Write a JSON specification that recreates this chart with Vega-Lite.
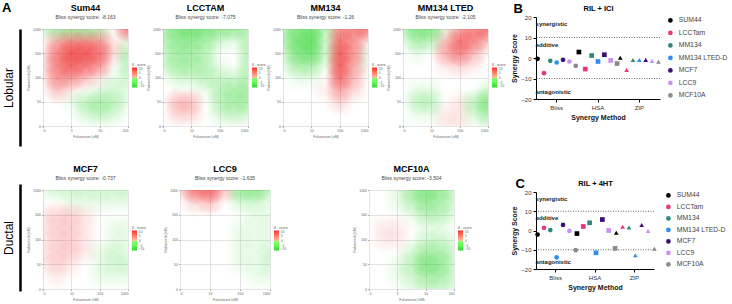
{
"$schema":"https://vega.github.io/schema/vega-lite/v6.json",
"padding":{"left":2,"top":1,"right":0,"bottom":0},
"background":"white",
"config":{
 "view":{"stroke":null},
 "font":"Liberation Sans",
 "axis":{"labelFontSize":3.5,"titleFontSize":3.5,"titleFontWeight":"normal","labelColor":"#666","titleColor":"#666","tickSize":1.5,"tickColor":"#aaa","domain":false,"grid":true,"gridColor":"#c8c8c8","gridWidth":0.5,"zindex":1,"labelPadding":1,"titlePadding":2},
 "legend":{"gradientLength":20,"gradientThickness":5,"titleFontSize":3.5,"titleFontWeight":"normal","labelFontSize":3,"titleColor":"#555","labelColor":"#555","titlePadding":1,"labelOffset":1,"gradientStrokeWidth":0},
 "title":{"fontSize":9,"fontWeight":"bold","subtitleFontSize":5,"subtitleColor":"#444","subtitlePadding":2,"offset":6,"color":"#000"}
},
"datasets":{
"sum44":[
{"x":0,"y":4,"v":-2},{"x":0.5,"y":4,"v":-4},{"x":1,"y":4,"v":-4},{"x":1.5,"y":4,"v":-4},{"x":2,"y":4,"v":-3},{"x":2.5,"y":4,"v":0},{"x":3,"y":4,"v":7},
{"x":0,"y":3.5,"v":0},{"x":0.5,"y":3.5,"v":4},{"x":1,"y":3.5,"v":6},{"x":1.5,"y":3.5,"v":6},{"x":2,"y":3.5,"v":5},{"x":2.5,"y":3.5,"v":1},{"x":3,"y":3.5,"v":-1},
{"x":0,"y":3,"v":1},{"x":0.5,"y":3,"v":6},{"x":1,"y":3,"v":9},{"x":1.5,"y":3,"v":9},{"x":2,"y":3,"v":7},{"x":2.5,"y":3,"v":2},{"x":3,"y":3,"v":-3},
{"x":0,"y":2.5,"v":1},{"x":0.5,"y":2.5,"v":6},{"x":1,"y":2.5,"v":8},{"x":1.5,"y":2.5,"v":7},{"x":2,"y":2.5,"v":5},{"x":2.5,"y":2.5,"v":0},{"x":3,"y":2.5,"v":-3},
{"x":0,"y":2,"v":1},{"x":0.5,"y":2,"v":5},{"x":1,"y":2,"v":5},{"x":1.5,"y":2,"v":3},{"x":2,"y":2,"v":1},{"x":2.5,"y":2,"v":-1},{"x":3,"y":2,"v":-2},
{"x":0,"y":1.5,"v":0},{"x":0.5,"y":1.5,"v":3},{"x":1,"y":1.5,"v":1},{"x":1.5,"y":1.5,"v":0},{"x":2,"y":1.5,"v":-1},{"x":2.5,"y":1.5,"v":-2},{"x":3,"y":1.5,"v":-1},
{"x":0,"y":1,"v":0},{"x":0.5,"y":1,"v":0},{"x":1,"y":1,"v":-1},{"x":1.5,"y":1,"v":-3},{"x":2,"y":1,"v":-4},{"x":2.5,"y":1,"v":-3},{"x":3,"y":1,"v":-1},
{"x":0,"y":0.5,"v":0},{"x":0.5,"y":0.5,"v":0},{"x":1,"y":0.5,"v":0},{"x":1.5,"y":0.5,"v":-2},{"x":2,"y":0.5,"v":-3},{"x":2.5,"y":0.5,"v":-2},{"x":3,"y":0.5,"v":0},
{"x":0,"y":0,"v":0},{"x":0.5,"y":0,"v":0},{"x":1,"y":0,"v":0},{"x":1.5,"y":0,"v":0},{"x":2,"y":0,"v":0},{"x":2.5,"y":0,"v":0},{"x":3,"y":0,"v":0}],
"lcctam":[
{"x":0,"y":4,"v":-3},{"x":0.5,"y":4,"v":-6},{"x":1,"y":4,"v":-7},{"x":1.5,"y":4,"v":-6},{"x":2,"y":4,"v":-5},{"x":2.5,"y":4,"v":-5},{"x":3,"y":4,"v":-3},
{"x":0,"y":3.5,"v":-3},{"x":0.5,"y":3.5,"v":-5},{"x":1,"y":3.5,"v":-5},{"x":1.5,"y":3.5,"v":-4},{"x":2,"y":3.5,"v":-2},{"x":2.5,"y":3.5,"v":-1},{"x":3,"y":3.5,"v":-3},
{"x":0,"y":3,"v":-2},{"x":0.5,"y":3,"v":-4},{"x":1,"y":3,"v":-4},{"x":1.5,"y":3,"v":-3},{"x":2,"y":3,"v":0},{"x":2.5,"y":3,"v":0},{"x":3,"y":3,"v":-3},
{"x":0,"y":2.5,"v":-2},{"x":0.5,"y":2.5,"v":-4},{"x":1,"y":2.5,"v":-4},{"x":1.5,"y":2.5,"v":-3},{"x":2,"y":2.5,"v":-1},{"x":2.5,"y":2.5,"v":0},{"x":3,"y":2.5,"v":-3},
{"x":0,"y":2,"v":0},{"x":0.5,"y":2,"v":-2},{"x":1,"y":2,"v":-2},{"x":1.5,"y":2,"v":-3},{"x":2,"y":2,"v":-2},{"x":2.5,"y":2,"v":-2},{"x":3,"y":2,"v":-3},
{"x":0,"y":1.5,"v":0},{"x":0.5,"y":1.5,"v":0},{"x":1,"y":1.5,"v":0},{"x":1.5,"y":1.5,"v":-1},{"x":2,"y":1.5,"v":-3},{"x":2.5,"y":1.5,"v":-4},{"x":3,"y":1.5,"v":-4},
{"x":0,"y":1,"v":0},{"x":0.5,"y":1,"v":3},{"x":1,"y":1,"v":3},{"x":1.5,"y":1,"v":0},{"x":2,"y":1,"v":-3},{"x":2.5,"y":1,"v":-4},{"x":3,"y":1,"v":-4},
{"x":0,"y":0.5,"v":0},{"x":0.5,"y":0.5,"v":2},{"x":1,"y":0.5,"v":2},{"x":1.5,"y":0.5,"v":0},{"x":2,"y":0.5,"v":-2},{"x":2.5,"y":0.5,"v":-3},{"x":3,"y":0.5,"v":-2},
{"x":0,"y":0,"v":0},{"x":0.5,"y":0,"v":0},{"x":1,"y":0,"v":0},{"x":1.5,"y":0,"v":0},{"x":2,"y":0,"v":0},{"x":2.5,"y":0,"v":0},{"x":3,"y":0,"v":0}],
"mm134":[
{"x":0,"y":4,"v":-3},{"x":0.5,"y":4,"v":-6},{"x":1,"y":4,"v":-7},{"x":1.5,"y":4,"v":-3},{"x":2,"y":4,"v":5},{"x":2.5,"y":4,"v":6},{"x":3,"y":4,"v":7},
{"x":0,"y":3.5,"v":-3},{"x":0.5,"y":3.5,"v":-7},{"x":1,"y":3.5,"v":-8},{"x":1.5,"y":3.5,"v":-2},{"x":2,"y":3.5,"v":7},{"x":2.5,"y":3.5,"v":5},{"x":3,"y":3.5,"v":1},
{"x":0,"y":3,"v":-2},{"x":0.5,"y":3,"v":-6},{"x":1,"y":3,"v":-7},{"x":1.5,"y":3,"v":-2},{"x":2,"y":3,"v":8},{"x":2.5,"y":3,"v":5},{"x":3,"y":3,"v":-1},
{"x":0,"y":2.5,"v":-1},{"x":0.5,"y":2.5,"v":-4},{"x":1,"y":2.5,"v":-4},{"x":1.5,"y":2.5,"v":-1},{"x":2,"y":2.5,"v":8},{"x":2.5,"y":2.5,"v":4},{"x":3,"y":2.5,"v":-1},
{"x":0,"y":2,"v":0},{"x":0.5,"y":2,"v":-1},{"x":1,"y":2,"v":-1},{"x":1.5,"y":2,"v":0},{"x":2,"y":2,"v":7},{"x":2.5,"y":2,"v":3},{"x":3,"y":2,"v":0},
{"x":0,"y":1.5,"v":0},{"x":0.5,"y":1.5,"v":0},{"x":1,"y":1.5,"v":0},{"x":1.5,"y":1.5,"v":1},{"x":2,"y":1.5,"v":4},{"x":2.5,"y":1.5,"v":2},{"x":3,"y":1.5,"v":0},
{"x":0,"y":1,"v":0},{"x":0.5,"y":1,"v":0},{"x":1,"y":1,"v":0},{"x":1.5,"y":1,"v":0},{"x":2,"y":1,"v":2},{"x":2.5,"y":1,"v":0},{"x":3,"y":1,"v":0},
{"x":0,"y":0.5,"v":0},{"x":0.5,"y":0.5,"v":0},{"x":1,"y":0.5,"v":0},{"x":1.5,"y":0.5,"v":0},{"x":2,"y":0.5,"v":0},{"x":2.5,"y":0.5,"v":0},{"x":3,"y":0.5,"v":0},
{"x":0,"y":0,"v":0},{"x":0.5,"y":0,"v":0},{"x":1,"y":0,"v":0},{"x":1.5,"y":0,"v":0},{"x":2,"y":0,"v":0},{"x":2.5,"y":0,"v":0},{"x":3,"y":0,"v":0}],
"lted":[
{"x":0,"y":4,"v":-3},{"x":0.5,"y":4,"v":-6},{"x":1,"y":4,"v":-6},{"x":1.5,"y":4,"v":-1},{"x":2,"y":4,"v":4},{"x":2.5,"y":4,"v":6},{"x":3,"y":4,"v":7},
{"x":0,"y":3.5,"v":-1},{"x":0.5,"y":3.5,"v":-4},{"x":1,"y":3.5,"v":-3},{"x":1.5,"y":3.5,"v":3},{"x":2,"y":3.5,"v":7},{"x":2.5,"y":3.5,"v":6},{"x":3,"y":3.5,"v":3},
{"x":0,"y":3,"v":0},{"x":0.5,"y":3,"v":-1},{"x":1,"y":3,"v":0},{"x":1.5,"y":3,"v":4},{"x":2,"y":3,"v":6},{"x":2.5,"y":3,"v":3},{"x":3,"y":3,"v":0},
{"x":0,"y":2.5,"v":0},{"x":0.5,"y":2.5,"v":0},{"x":1,"y":2.5,"v":0},{"x":1.5,"y":2.5,"v":1},{"x":2,"y":2.5,"v":2},{"x":2.5,"y":2.5,"v":1},{"x":3,"y":2.5,"v":0},
{"x":0,"y":2,"v":0},{"x":0.5,"y":2,"v":0},{"x":1,"y":2,"v":0},{"x":1.5,"y":2,"v":0},{"x":2,"y":2,"v":0},{"x":2.5,"y":2,"v":0},{"x":3,"y":2,"v":0},
{"x":0,"y":1.5,"v":0},{"x":0.5,"y":1.5,"v":-1},{"x":1,"y":1.5,"v":-1},{"x":1.5,"y":1.5,"v":0},{"x":2,"y":1.5,"v":0},{"x":2.5,"y":1.5,"v":0},{"x":3,"y":1.5,"v":-2},
{"x":0,"y":1,"v":0},{"x":0.5,"y":1,"v":-3},{"x":1,"y":1,"v":-3},{"x":1.5,"y":1,"v":0},{"x":2,"y":1,"v":1},{"x":2.5,"y":1,"v":-3},{"x":3,"y":1,"v":-6},
{"x":0,"y":0.5,"v":0},{"x":0.5,"y":0.5,"v":-1},{"x":1,"y":0.5,"v":-1},{"x":1.5,"y":0.5,"v":1},{"x":2,"y":0.5,"v":1},{"x":2.5,"y":0.5,"v":-2},{"x":3,"y":0.5,"v":-4},
{"x":0,"y":0,"v":0},{"x":0.5,"y":0,"v":0},{"x":1,"y":0,"v":0},{"x":1.5,"y":0,"v":1},{"x":2,"y":0,"v":1},{"x":2.5,"y":0,"v":0},{"x":3,"y":0,"v":-1}],
"mcf7":[
{"x":0,"y":4,"v":-1},{"x":0.5,"y":4,"v":-2},{"x":1,"y":4,"v":-2},{"x":1.5,"y":4,"v":-2},{"x":2,"y":4,"v":-2},{"x":2.5,"y":4,"v":-2},{"x":3,"y":4,"v":-2},
{"x":0,"y":3.5,"v":0},{"x":0.5,"y":3.5,"v":0},{"x":1,"y":3.5,"v":-1},{"x":1.5,"y":3.5,"v":-1},{"x":2,"y":3.5,"v":-1},{"x":2.5,"y":3.5,"v":-1},{"x":3,"y":3.5,"v":-1},
{"x":0,"y":3,"v":1},{"x":0.5,"y":3,"v":2},{"x":1,"y":3,"v":2},{"x":1.5,"y":3,"v":1},{"x":2,"y":3,"v":0},{"x":2.5,"y":3,"v":0},{"x":3,"y":3,"v":0},
{"x":0,"y":2.5,"v":1},{"x":0.5,"y":2.5,"v":2},{"x":1,"y":2.5,"v":2},{"x":1.5,"y":2.5,"v":1},{"x":2,"y":2.5,"v":0},{"x":2.5,"y":2.5,"v":-1},{"x":3,"y":2.5,"v":-1},
{"x":0,"y":2,"v":1},{"x":0.5,"y":2,"v":2},{"x":1,"y":2,"v":2},{"x":1.5,"y":2,"v":1},{"x":2,"y":2,"v":0},{"x":2.5,"y":2,"v":-1},{"x":3,"y":2,"v":-1},
{"x":0,"y":1.5,"v":1},{"x":0.5,"y":1.5,"v":2},{"x":1,"y":1.5,"v":2},{"x":1.5,"y":1.5,"v":1},{"x":2,"y":1.5,"v":-1},{"x":2.5,"y":1.5,"v":-2},{"x":3,"y":1.5,"v":-1},
{"x":0,"y":1,"v":1},{"x":0.5,"y":1,"v":2},{"x":1,"y":1,"v":1},{"x":1.5,"y":1,"v":0},{"x":2,"y":1,"v":-1},{"x":2.5,"y":1,"v":-2},{"x":3,"y":1,"v":-2},
{"x":0,"y":0.5,"v":0},{"x":0.5,"y":0.5,"v":1},{"x":1,"y":0.5,"v":0},{"x":1.5,"y":0.5,"v":0},{"x":2,"y":0.5,"v":-1},{"x":2.5,"y":0.5,"v":-1},{"x":3,"y":0.5,"v":-1},
{"x":0,"y":0,"v":0},{"x":0.5,"y":0,"v":0},{"x":1,"y":0,"v":0},{"x":1.5,"y":0,"v":0},{"x":2,"y":0,"v":0},{"x":2.5,"y":0,"v":0},{"x":3,"y":0,"v":0}],
"lcc9":[
{"x":0,"y":4,"v":2},{"x":0.5,"y":4,"v":7},{"x":1,"y":4,"v":8},{"x":1.5,"y":4,"v":3},{"x":2,"y":4,"v":-5},{"x":2.5,"y":4,"v":-6},{"x":3,"y":4,"v":-3},
{"x":0,"y":3.5,"v":0},{"x":0.5,"y":3.5,"v":2},{"x":1,"y":3.5,"v":3},{"x":1.5,"y":3.5,"v":0},{"x":2,"y":3.5,"v":-2},{"x":2.5,"y":3.5,"v":-2},{"x":3,"y":3.5,"v":-1},
{"x":0,"y":3,"v":0},{"x":0.5,"y":3,"v":0},{"x":1,"y":3,"v":0},{"x":1.5,"y":3,"v":0},{"x":2,"y":3,"v":0},{"x":2.5,"y":3,"v":-1},{"x":3,"y":3,"v":-1},
{"x":0,"y":2.5,"v":0},{"x":0.5,"y":2.5,"v":0},{"x":1,"y":2.5,"v":0},{"x":1.5,"y":2.5,"v":0},{"x":2,"y":2.5,"v":-1},{"x":2.5,"y":2.5,"v":-1},{"x":3,"y":2.5,"v":-1},
{"x":0,"y":2,"v":0},{"x":0.5,"y":2,"v":0},{"x":1,"y":2,"v":0},{"x":1.5,"y":2,"v":0},{"x":2,"y":2,"v":-1},{"x":2.5,"y":2,"v":-1},{"x":3,"y":2,"v":-1},
{"x":0,"y":1.5,"v":0},{"x":0.5,"y":1.5,"v":0},{"x":1,"y":1.5,"v":0},{"x":1.5,"y":1.5,"v":0},{"x":2,"y":1.5,"v":-1},{"x":2.5,"y":1.5,"v":-1},{"x":3,"y":1.5,"v":-2},
{"x":0,"y":1,"v":0},{"x":0.5,"y":1,"v":0},{"x":1,"y":1,"v":0},{"x":1.5,"y":1,"v":0},{"x":2,"y":1,"v":-1},{"x":2.5,"y":1,"v":-1},{"x":3,"y":1,"v":-2},
{"x":0,"y":0.5,"v":0},{"x":0.5,"y":0.5,"v":0},{"x":1,"y":0.5,"v":0},{"x":1.5,"y":0.5,"v":0},{"x":2,"y":0.5,"v":0},{"x":2.5,"y":0.5,"v":-1},{"x":3,"y":0.5,"v":-1},
{"x":0,"y":0,"v":0},{"x":0.5,"y":0,"v":0},{"x":1,"y":0,"v":0},{"x":1.5,"y":0,"v":0},{"x":2,"y":0,"v":0},{"x":2.5,"y":0,"v":0},{"x":3,"y":0,"v":0}],
"mcf10a":[
{"x":0,"y":4,"v":0},{"x":0.5,"y":4,"v":0},{"x":1,"y":4,"v":-1},{"x":1.5,"y":4,"v":-4},{"x":2,"y":4,"v":-6},{"x":2.5,"y":4,"v":-5},{"x":3,"y":4,"v":-2},
{"x":0,"y":3.5,"v":0},{"x":0.5,"y":3.5,"v":0},{"x":1,"y":3.5,"v":-1},{"x":1.5,"y":3.5,"v":-3},{"x":2,"y":3.5,"v":-5},{"x":2.5,"y":3.5,"v":-4},{"x":3,"y":3.5,"v":-2},
{"x":0,"y":3,"v":0},{"x":0.5,"y":3,"v":0},{"x":1,"y":3,"v":0},{"x":1.5,"y":3,"v":-1},{"x":2,"y":3,"v":-3},{"x":2.5,"y":3,"v":-3},{"x":3,"y":3,"v":-1},
{"x":0,"y":2.5,"v":0},{"x":0.5,"y":2.5,"v":1},{"x":1,"y":2.5,"v":1},{"x":1.5,"y":2.5,"v":0},{"x":2,"y":2.5,"v":-1},{"x":2.5,"y":2.5,"v":-1},{"x":3,"y":2.5,"v":0},
{"x":0,"y":2,"v":0},{"x":0.5,"y":2,"v":1},{"x":1,"y":2,"v":1},{"x":1.5,"y":2,"v":0},{"x":2,"y":2,"v":-2},{"x":2.5,"y":2,"v":-2},{"x":3,"y":2,"v":-1},
{"x":0,"y":1.5,"v":0},{"x":0.5,"y":1.5,"v":0},{"x":1,"y":1.5,"v":0},{"x":1.5,"y":1.5,"v":-2},{"x":2,"y":1.5,"v":-4},{"x":2.5,"y":1.5,"v":-4},{"x":3,"y":1.5,"v":-2},
{"x":0,"y":1,"v":0},{"x":0.5,"y":1,"v":0},{"x":1,"y":1,"v":-1},{"x":1.5,"y":1,"v":-3},{"x":2,"y":1,"v":-6},{"x":2.5,"y":1,"v":-5},{"x":3,"y":1,"v":-2},
{"x":0,"y":0.5,"v":0},{"x":0.5,"y":0.5,"v":0},{"x":1,"y":0.5,"v":-1},{"x":1.5,"y":0.5,"v":-2},{"x":2,"y":0.5,"v":-4},{"x":2.5,"y":0.5,"v":-4},{"x":3,"y":0.5,"v":-2},
{"x":0,"y":0,"v":0},{"x":0.5,"y":0,"v":0},{"x":1,"y":0,"v":0},{"x":1.5,"y":0,"v":-1},{"x":2,"y":0,"v":-2},{"x":2.5,"y":0,"v":-2},{"x":3,"y":0,"v":-1}],
"ici":[
{"method":"Bliss","line":"SUM44","score":-0.4},{"method":"Bliss","line":"LCCTam","score":-7.4},{"method":"Bliss","line":"MM134","score":-1.4},{"method":"Bliss","line":"MM134 LTED-D","score":-2.2},{"method":"Bliss","line":"MCF7","score":-0.9},{"method":"Bliss","line":"LCC9","score":-1.7},{"method":"Bliss","line":"MCF10A","score":-3.8},
{"method":"HSA","line":"SUM44","score":2.9},{"method":"HSA","line":"LCCTam","score":-5.4},{"method":"HSA","line":"MM134","score":1.2},{"method":"HSA","line":"MM134 LTED-D","score":-1.7},{"method":"HSA","line":"MCF7","score":1.6},{"method":"HSA","line":"LCC9","score":-1.2},{"method":"HSA","line":"MCF10A","score":-2.7},
{"method":"ZIP","line":"SUM44","score":0.1},{"method":"ZIP","line":"LCCTam","score":-5.8},{"method":"ZIP","line":"MM134","score":-1.0},{"method":"ZIP","line":"MM134 LTED-D","score":-1.0},{"method":"ZIP","line":"MCF7","score":-0.9},{"method":"ZIP","line":"LCC9","score":-1.4},{"method":"ZIP","line":"MCF10A","score":-1.8}],
"fourht":[
{"method":"Bliss","line":"SUM44","score":-2.1},{"method":"Bliss","line":"LCCTam","score":1.4},{"method":"Bliss","line":"MM134","score":0.2},{"method":"Bliss","line":"MM134 LTED-D","score":-14},{"method":"Bliss","line":"MCF7","score":2.9},{"method":"Bliss","line":"LCC9","score":-0.2},{"method":"Bliss","line":"MCF10A","score":-10.2},
{"method":"HSA","line":"SUM44","score":-1.6},{"method":"HSA","line":"LCCTam","score":2.1},{"method":"HSA","line":"MM134","score":4.0},{"method":"HSA","line":"MM134 LTED-D","score":-11.6},{"method":"HSA","line":"MCF7","score":5.7},{"method":"HSA","line":"LCC9","score":0},{"method":"HSA","line":"MCF10A","score":-9.3},
{"method":"ZIP","line":"SUM44","score":-1.2},{"method":"ZIP","line":"LCCTam","score":1.9},{"method":"ZIP","line":"MM134","score":1.6},{"method":"ZIP","line":"MM134 LTED-D","score":-12.9},{"method":"ZIP","line":"MCF7","score":2.9},{"method":"ZIP","line":"LCC9","score":-0.2},{"method":"ZIP","line":"MCF10A","score":-9.5}],
"zones":[{"zone":"synergistic","yv":16.5},{"zone":"additive","yv":6.5},{"zone":"antagonistic","yv":-16.5}],
"thresholds":[{"t":10},{"t":-10}]
},
"columns":2,
"align":"none",
"spacing":{"row":0,"column":4},
"resolve":{"scale":{"color":"independent","opacity":"independent"},"legend":{"color":"independent"}},
"concat":[
{"width":1,"height":1,"view":{"fill":"white"},"data":{"values":[]},"mark":"point"},
{"width":1,"height":1,"view":{"fill":"white"},"data":{"values":[]},"mark":"point"},
{"columns":2,"align":"none","spacing":5,
 "resolve":{"scale":{"color":"independent","opacity":"independent"},"legend":{"color":"independent"}},
 "concat":[
 {"vconcat":[
  {"width":1,"height":117,"title":{"text":"A","anchor":"start","frame":"bounds","fontSize":13,"offset":14},
   "data":{"values":[{"g":"Lobular"}]},"mark":{"type":"point","opacity":0,"size":1},
   "encoding":{"y":{"field":"g","type":"nominal","scale":{"paddingInner":0,"paddingOuter":0},"axis":{"title":null,"ticks":false,"grid":false,"domain":true,"domainWidth":2.5,"domainColor":"#000","labelAngle":-90,"labelFontSize":12,"labelColor":"#000","labelPadding":5,"zindex":0}}}},
  {"width":1,"height":107,
   "data":{"values":[{"g":"Ductal"}]},"mark":{"type":"point","opacity":0,"size":1},
   "encoding":{"y":{"field":"g","type":"nominal","scale":{"paddingInner":0,"paddingOuter":0},"axis":{"title":null,"ticks":false,"grid":false,"domain":true,"domainWidth":2.5,"domainColor":"#000","labelAngle":-90,"labelFontSize":12,"labelColor":"#000","labelPadding":5,"zindex":0}}}}
 ],"spacing":38},
 {"vconcat":[
  {"hconcat":[
   {"width":85,"height":97,"title":{"text":"Sum44","subtitle":"Bliss synergy score: -8.163"},"data":{"name":"sum44"},
    "encoding":{"x":{"field":"x","type":"quantitative","scale":{"domain":[0,3],"nice":false,"zero":false},"axis":{"values":[0,1,2,3],"labelExpr":"['0','5','10','100'][datum.value]","title":"Fulvestrant (nM)"}},
     "y":{"field":"y","type":"quantitative","scale":{"domain":[0,4],"nice":false,"zero":false},"axis":{"values":[0,1,2,3,4],"labelExpr":"['0','50','100','500','1000'][datum.value]","title":"Ralimetinib (nM)"}}},
    "layer":[
     {"mark":{"type":"point","opacity":0},"encoding":{"color":{"field":"v","type":"quantitative","scale":{"domain":[-10,0,10],"range":["#2fd52f","#ffffff","#ee2b2b"]},"legend":{"title":"δ - score","values":[-10,-5,0,5,10],"orient":"none","legendX":89,"legendY":34,"direction":"vertical"}}}},
     {"transform":[{"filter":"datum.v>0"}],"mark":{"type":"point","shape":"circle","size":900,"filled":true,"clip":true,"strokeWidth":0,"fill":{"gradient":"radial","x1":0.5,"y1":0.5,"r1":0,"x2":0.5,"y2":0.5,"r2":0.5,"stops":[{"offset":0,"color":"rgba(238,43,43,1)"},{"offset":0.4,"color":"rgba(238,43,43,0.7)"},{"offset":1,"color":"rgba(238,43,43,0)"}]}},"encoding":{"opacity":{"field":"v","type":"quantitative","scale":{"domain":[0,10],"range":[0,0.8]},"legend":null}}},
     {"transform":[{"filter":"datum.v<0"}],"mark":{"type":"point","shape":"circle","size":900,"filled":true,"clip":true,"strokeWidth":0,"fill":{"gradient":"radial","x1":0.5,"y1":0.5,"r1":0,"x2":0.5,"y2":0.5,"r2":0.5,"stops":[{"offset":0,"color":"rgba(47,213,47,1)"},{"offset":0.4,"color":"rgba(47,213,47,0.7)"},{"offset":1,"color":"rgba(47,213,47,0)"}]}},"encoding":{"opacity":{"field":"v","type":"quantitative","scale":{"domain":[-10,0],"range":[0.8,0]},"legend":null}}}
    ],"resolve":{"scale":{"opacity":"independent"}}},
   {"width":85,"height":97,"title":{"text":"LCCTAM","subtitle":"Bliss synergy score: -7.075"},"data":{"name":"lcctam"},
    "encoding":{"x":{"field":"x","type":"quantitative","scale":{"domain":[0,3],"nice":false,"zero":false},"axis":{"values":[0,1,2,3],"labelExpr":"['0','10','100','1000'][datum.value]","title":"Fulvestrant (nM)"}},
     "y":{"field":"y","type":"quantitative","scale":{"domain":[0,4],"nice":false,"zero":false},"axis":{"values":[0,1,2,3,4],"labelExpr":"['0','50','100','500','1000'][datum.value]","title":"Ralimetinib (nM)"}}},
    "layer":[
     {"mark":{"type":"point","opacity":0},"encoding":{"color":{"field":"v","type":"quantitative","scale":{"domain":[-10,0,10],"range":["#2fd52f","#ffffff","#ee2b2b"]},"legend":{"title":"δ - score","values":[-10,-5,0,5,10],"orient":"none","legendX":89,"legendY":34,"direction":"vertical"}}}},
     {"transform":[{"filter":"datum.v>0"}],"mark":{"type":"point","shape":"circle","size":900,"filled":true,"clip":true,"strokeWidth":0,"fill":{"gradient":"radial","x1":0.5,"y1":0.5,"r1":0,"x2":0.5,"y2":0.5,"r2":0.5,"stops":[{"offset":0,"color":"rgba(238,43,43,1)"},{"offset":0.4,"color":"rgba(238,43,43,0.7)"},{"offset":1,"color":"rgba(238,43,43,0)"}]}},"encoding":{"opacity":{"field":"v","type":"quantitative","scale":{"domain":[0,10],"range":[0,0.8]},"legend":null}}},
     {"transform":[{"filter":"datum.v<0"}],"mark":{"type":"point","shape":"circle","size":900,"filled":true,"clip":true,"strokeWidth":0,"fill":{"gradient":"radial","x1":0.5,"y1":0.5,"r1":0,"x2":0.5,"y2":0.5,"r2":0.5,"stops":[{"offset":0,"color":"rgba(47,213,47,1)"},{"offset":0.4,"color":"rgba(47,213,47,0.7)"},{"offset":1,"color":"rgba(47,213,47,0)"}]}},"encoding":{"opacity":{"field":"v","type":"quantitative","scale":{"domain":[-10,0],"range":[0.8,0]},"legend":null}}}
    ],"resolve":{"scale":{"opacity":"independent"}}},
   {"width":85,"height":97,"title":{"text":"MM134","subtitle":"Bliss synergy score: -1.26"},"data":{"name":"mm134"},
    "encoding":{"x":{"field":"x","type":"quantitative","scale":{"domain":[0,3],"nice":false,"zero":false},"axis":{"values":[0,1,2,3],"labelExpr":"['0','10','100','1000'][datum.value]","title":"Fulvestrant (nM)"}},
     "y":{"field":"y","type":"quantitative","scale":{"domain":[0,4],"nice":false,"zero":false},"axis":{"values":[0,1,2,3,4],"labelExpr":"['0','50','100','500','1000'][datum.value]","title":"Ralimetinib (nM)"}}},
    "layer":[
     {"mark":{"type":"point","opacity":0},"encoding":{"color":{"field":"v","type":"quantitative","scale":{"domain":[-10,0,10],"range":["#2fd52f","#ffffff","#ee2b2b"]},"legend":{"title":"δ - score","values":[-10,-5,0,5,10],"orient":"none","legendX":89,"legendY":34,"direction":"vertical"}}}},
     {"transform":[{"filter":"datum.v>0"}],"mark":{"type":"point","shape":"circle","size":900,"filled":true,"clip":true,"strokeWidth":0,"fill":{"gradient":"radial","x1":0.5,"y1":0.5,"r1":0,"x2":0.5,"y2":0.5,"r2":0.5,"stops":[{"offset":0,"color":"rgba(238,43,43,1)"},{"offset":0.4,"color":"rgba(238,43,43,0.7)"},{"offset":1,"color":"rgba(238,43,43,0)"}]}},"encoding":{"opacity":{"field":"v","type":"quantitative","scale":{"domain":[0,10],"range":[0,0.8]},"legend":null}}},
     {"transform":[{"filter":"datum.v<0"}],"mark":{"type":"point","shape":"circle","size":900,"filled":true,"clip":true,"strokeWidth":0,"fill":{"gradient":"radial","x1":0.5,"y1":0.5,"r1":0,"x2":0.5,"y2":0.5,"r2":0.5,"stops":[{"offset":0,"color":"rgba(47,213,47,1)"},{"offset":0.4,"color":"rgba(47,213,47,0.7)"},{"offset":1,"color":"rgba(47,213,47,0)"}]}},"encoding":{"opacity":{"field":"v","type":"quantitative","scale":{"domain":[-10,0],"range":[0.8,0]},"legend":null}}}
    ],"resolve":{"scale":{"opacity":"independent"}}},
   {"width":85,"height":97,"title":{"text":"MM134 LTED","subtitle":"Bliss synergy score: -2.105"},"data":{"name":"lted"},
    "encoding":{"x":{"field":"x","type":"quantitative","scale":{"domain":[0,3],"nice":false,"zero":false},"axis":{"values":[0,1,2,3],"labelExpr":"['0','10','100','1000'][datum.value]","title":"Fulvestrant (nM)"}},
     "y":{"field":"y","type":"quantitative","scale":{"domain":[0,4],"nice":false,"zero":false},"axis":{"values":[0,1,2,3,4],"labelExpr":"['0','50','100','500','1000'][datum.value]","title":"Ralimetinib (nM)"}}},
    "layer":[
     {"mark":{"type":"point","opacity":0},"encoding":{"color":{"field":"v","type":"quantitative","scale":{"domain":[-10,0,10],"range":["#2fd52f","#ffffff","#ee2b2b"]},"legend":{"title":"δ - score","values":[-10,-5,0,5,10],"orient":"none","legendX":89,"legendY":34,"direction":"vertical"}}}},
     {"transform":[{"filter":"datum.v>0"}],"mark":{"type":"point","shape":"circle","size":900,"filled":true,"clip":true,"strokeWidth":0,"fill":{"gradient":"radial","x1":0.5,"y1":0.5,"r1":0,"x2":0.5,"y2":0.5,"r2":0.5,"stops":[{"offset":0,"color":"rgba(238,43,43,1)"},{"offset":0.4,"color":"rgba(238,43,43,0.7)"},{"offset":1,"color":"rgba(238,43,43,0)"}]}},"encoding":{"opacity":{"field":"v","type":"quantitative","scale":{"domain":[0,10],"range":[0,0.8]},"legend":null}}},
     {"transform":[{"filter":"datum.v<0"}],"mark":{"type":"point","shape":"circle","size":900,"filled":true,"clip":true,"strokeWidth":0,"fill":{"gradient":"radial","x1":0.5,"y1":0.5,"r1":0,"x2":0.5,"y2":0.5,"r2":0.5,"stops":[{"offset":0,"color":"rgba(47,213,47,1)"},{"offset":0.4,"color":"rgba(47,213,47,0.7)"},{"offset":1,"color":"rgba(47,213,47,0)"}]}},"encoding":{"opacity":{"field":"v","type":"quantitative","scale":{"domain":[-10,0],"range":[0.8,0]},"legend":null}}}
    ],"resolve":{"scale":{"opacity":"independent"}}}
  ],"spacing":0,"resolve":{"scale":{"color":"independent","opacity":"independent"},"legend":{"color":"independent"}}},
  {"hconcat":[
   {"width":85,"height":99,"title":{"text":"MCF7","subtitle":"Bliss synergy score: -0.737"},"data":{"name":"mcf7"},
    "encoding":{"x":{"field":"x","type":"quantitative","scale":{"domain":[0,3],"nice":false,"zero":false},"axis":{"values":[0,1,2,3],"labelExpr":"['0','10','100','1000'][datum.value]","title":"Fulvestrant (nM)"}},
     "y":{"field":"y","type":"quantitative","scale":{"domain":[0,4],"nice":false,"zero":false},"axis":{"values":[0,1,2,3,4],"labelExpr":"['0','50','100','500','1000'][datum.value]","title":"Ralimetinib (nM)"}}},
    "layer":[
     {"mark":{"type":"point","opacity":0},"encoding":{"color":{"field":"v","type":"quantitative","scale":{"domain":[-10,0,10],"range":["#2fd52f","#ffffff","#ee2b2b"]},"legend":{"title":"δ - score","values":[-10,-5,0,5,10],"orient":"none","legendX":89,"legendY":36,"direction":"vertical"}}}},
     {"transform":[{"filter":"datum.v>0"}],"mark":{"type":"point","shape":"circle","size":900,"filled":true,"clip":true,"strokeWidth":0,"fill":{"gradient":"radial","x1":0.5,"y1":0.5,"r1":0,"x2":0.5,"y2":0.5,"r2":0.5,"stops":[{"offset":0,"color":"rgba(238,43,43,1)"},{"offset":0.4,"color":"rgba(238,43,43,0.7)"},{"offset":1,"color":"rgba(238,43,43,0)"}]}},"encoding":{"opacity":{"field":"v","type":"quantitative","scale":{"domain":[0,10],"range":[0,0.8]},"legend":null}}},
     {"transform":[{"filter":"datum.v<0"}],"mark":{"type":"point","shape":"circle","size":900,"filled":true,"clip":true,"strokeWidth":0,"fill":{"gradient":"radial","x1":0.5,"y1":0.5,"r1":0,"x2":0.5,"y2":0.5,"r2":0.5,"stops":[{"offset":0,"color":"rgba(47,213,47,1)"},{"offset":0.4,"color":"rgba(47,213,47,0.7)"},{"offset":1,"color":"rgba(47,213,47,0)"}]}},"encoding":{"opacity":{"field":"v","type":"quantitative","scale":{"domain":[-10,0],"range":[0.8,0]},"legend":null}}}
    ],"resolve":{"scale":{"opacity":"independent"}}},
   {"width":90,"height":99,"title":{"text":"LCC9","subtitle":"Bliss synergy score: -1.635"},"data":{"name":"lcc9"},
    "encoding":{"x":{"field":"x","type":"quantitative","scale":{"domain":[0,3],"nice":false,"zero":false},"axis":{"values":[0,1,2,3],"labelExpr":"['0','10','100','1000'][datum.value]","title":"Fulvestrant (nM)"}},
     "y":{"field":"y","type":"quantitative","scale":{"domain":[0,4],"nice":false,"zero":false},"axis":{"values":[0,1,2,3,4],"labelExpr":"['0','50','100','500','1000'][datum.value]","title":"Ralimetinib (nM)"}}},
    "layer":[
     {"mark":{"type":"point","opacity":0},"encoding":{"color":{"field":"v","type":"quantitative","scale":{"domain":[-10,0,10],"range":["#2fd52f","#ffffff","#ee2b2b"]},"legend":{"title":"δ - score","values":[-10,-5,0,5,10],"orient":"none","legendX":94,"legendY":36,"direction":"vertical"}}}},
     {"transform":[{"filter":"datum.v>0"}],"mark":{"type":"point","shape":"circle","size":900,"filled":true,"clip":true,"strokeWidth":0,"fill":{"gradient":"radial","x1":0.5,"y1":0.5,"r1":0,"x2":0.5,"y2":0.5,"r2":0.5,"stops":[{"offset":0,"color":"rgba(238,43,43,1)"},{"offset":0.4,"color":"rgba(238,43,43,0.7)"},{"offset":1,"color":"rgba(238,43,43,0)"}]}},"encoding":{"opacity":{"field":"v","type":"quantitative","scale":{"domain":[0,10],"range":[0,0.8]},"legend":null}}},
     {"transform":[{"filter":"datum.v<0"}],"mark":{"type":"point","shape":"circle","size":900,"filled":true,"clip":true,"strokeWidth":0,"fill":{"gradient":"radial","x1":0.5,"y1":0.5,"r1":0,"x2":0.5,"y2":0.5,"r2":0.5,"stops":[{"offset":0,"color":"rgba(47,213,47,1)"},{"offset":0.4,"color":"rgba(47,213,47,0.7)"},{"offset":1,"color":"rgba(47,213,47,0)"}]}},"encoding":{"opacity":{"field":"v","type":"quantitative","scale":{"domain":[-10,0],"range":[0.8,0]},"legend":null}}}
    ],"resolve":{"scale":{"opacity":"independent"}}},
   {"width":30,"height":10,"view":{"fill":"white"},"data":{"values":[]},"mark":"point"},
   {"width":85,"height":99,"title":{"text":"MCF10A","subtitle":"Bliss synergy score: -3.504"},"data":{"name":"mcf10a"},
    "encoding":{"x":{"field":"x","type":"quantitative","scale":{"domain":[0,3],"nice":false,"zero":false},"axis":{"values":[0,1,2,3],"labelExpr":"['0','5','10','100'][datum.value]","title":"Fulvestrant (nM)"}},
     "y":{"field":"y","type":"quantitative","scale":{"domain":[0,4],"nice":false,"zero":false},"axis":{"values":[0,1,2,3,4],"labelExpr":"['0','50','100','500','1000'][datum.value]","title":"Ralimetinib (nM)"}}},
    "layer":[
     {"mark":{"type":"point","opacity":0},"encoding":{"color":{"field":"v","type":"quantitative","scale":{"domain":[-10,0,10],"range":["#2fd52f","#ffffff","#ee2b2b"]},"legend":{"title":"δ - score","values":[-10,-5,0,5,10],"orient":"none","legendX":89,"legendY":36,"direction":"vertical"}}}},
     {"transform":[{"filter":"datum.v>0"}],"mark":{"type":"point","shape":"circle","size":900,"filled":true,"clip":true,"strokeWidth":0,"fill":{"gradient":"radial","x1":0.5,"y1":0.5,"r1":0,"x2":0.5,"y2":0.5,"r2":0.5,"stops":[{"offset":0,"color":"rgba(238,43,43,1)"},{"offset":0.4,"color":"rgba(238,43,43,0.7)"},{"offset":1,"color":"rgba(238,43,43,0)"}]}},"encoding":{"opacity":{"field":"v","type":"quantitative","scale":{"domain":[0,10],"range":[0,0.8]},"legend":null}}},
     {"transform":[{"filter":"datum.v<0"}],"mark":{"type":"point","shape":"circle","size":900,"filled":true,"clip":true,"strokeWidth":0,"fill":{"gradient":"radial","x1":0.5,"y1":0.5,"r1":0,"x2":0.5,"y2":0.5,"r2":0.5,"stops":[{"offset":0,"color":"rgba(47,213,47,1)"},{"offset":0.4,"color":"rgba(47,213,47,0.7)"},{"offset":1,"color":"rgba(47,213,47,0)"}]}},"encoding":{"opacity":{"field":"v","type":"quantitative","scale":{"domain":[-10,0],"range":[0.8,0]},"legend":null}}}
    ],"resolve":{"scale":{"opacity":"independent"}}}
  ],"spacing":17,"resolve":{"scale":{"color":"independent","opacity":"independent"},"legend":{"color":"independent"}}}
 ],"spacing":27,"resolve":{"scale":{"color":"independent","opacity":"independent"},"legend":{"color":"independent"}}}
]},
{"vconcat":[
  {"width":124,"height":82,
   "resolve":{"axis":{"x":"independent","y":"independent"}},
   "layer":[
    {"data":{"name":"thresholds"},"mark":{"type":"rule","strokeDash":[1,1.5],"color":"#444","strokeWidth":0.8},"encoding":{"y":{"field":"t","type":"quantitative","scale":{"domain":[-20,20],"nice":false},"axis":null}}},
    {"data":{"name":"ici"},"mark":{"type":"point","filled":true,"size":22,"opacity":1,"strokeWidth":0},
     "encoding":{
      "x":{"field":"method","type":"nominal","scale":{"domain":["Bliss","HSA","ZIP"],"paddingInner":0,"paddingOuter":0},"axis":{"orient":"bottom","title":"Synergy Method","labelAngle":0,"labelFontSize":6,"labelColor":"#333","titleFontSize":7,"titleFontWeight":"bold","titleColor":"#111","tickSize":3,"tickColor":"#000","domain":true,"domainColor":"#000","grid":false,"labelPadding":2,"titlePadding":3}},
      "xOffset":{"field":"line","type":"nominal","scale":{"domain":["SUM44","LCCTam","MM134","MM134 LTED-D","MCF7","LCC9","MCF10A"],"paddingInner":0,"paddingOuter":0.25}},
      "y":{"field":"score","type":"quantitative","scale":{"domain":[-20,20],"nice":false},"axis":{"orient":"left","title":"Synergy Score","values":[-20,-10,0,10,20],"labelFontSize":6,"labelColor":"#333","titleFontSize":7,"titleFontWeight":"bold","titleColor":"#111","tickSize":3,"tickColor":"#000","domain":true,"domainColor":"#000","grid":false,"labelPadding":2,"titlePadding":3,"minExtent":0}},
      "color":{"field":"line","type":"nominal","scale":{"domain":["SUM44","LCCTam","MM134","MM134 LTED-D","MCF7","LCC9","MCF10A"],"range":["#000000","#e8357e","#2a8a7e","#2f8ef0","#3a1275","#c890f0","#8a8a8a"]},"legend":{"title":null,"orient":"right","labelFontSize":6.8,"labelColor":"#444","symbolType":"circle","symbolSize":22,"rowPadding":4.5,"offset":7,"symbolStrokeWidth":0,"labelOffset":5}},
      "shape":{"field":"method","type":"nominal","scale":{"domain":["Bliss","HSA","ZIP"],"range":["circle","square","triangle-up"]},"legend":null}}},
    {"data":{"name":"zones"},"mark":{"type":"text","align":"left","fontWeight":"bold","fontSize":6,"dx":-2,"color":"#222"},"encoding":{"text":{"field":"zone"},
      "x":{"datum":"Bliss","type":"nominal","axis":{"orient":"top","title":"RIL + ICI","labels":false,"ticks":false,"domain":false,"grid":false,"titleFontSize":7.5,"titleFontWeight":"bold","titleColor":"#000","titlePadding":5,"minExtent":0,"maxExtent":0}},
      "xOffset":{"datum":"SUM44","type":"nominal"},
      "y":{"field":"yv","type":"quantitative","scale":{"domain":[-20,20],"nice":false},"axis":{"orient":"left","title":"B","titleAngle":0,"titleX":-23,"titleY":-5,"titleAlign":"left","titleBaseline":"alphabetic","titleFontSize":13,"titleFontWeight":"bold","titleColor":"#000","labels":false,"ticks":false,"domain":false,"grid":false,"minExtent":0,"maxExtent":0}}}}
   ]},
  {"width":118,"height":77,
   "resolve":{"axis":{"x":"independent","y":"independent"}},
   "layer":[
    {"data":{"name":"thresholds"},"mark":{"type":"rule","strokeDash":[1,1.5],"color":"#444","strokeWidth":0.8},"encoding":{"y":{"field":"t","type":"quantitative","scale":{"domain":[-20,20],"nice":false},"axis":null}}},
    {"data":{"name":"fourht"},"mark":{"type":"point","filled":true,"size":22,"opacity":1,"strokeWidth":0},
     "encoding":{
      "x":{"field":"method","type":"nominal","scale":{"domain":["Bliss","HSA","ZIP"],"paddingInner":0,"paddingOuter":0},"axis":{"orient":"bottom","title":"Synergy Method","labelAngle":0,"labelFontSize":6,"labelColor":"#333","titleFontSize":7,"titleFontWeight":"bold","titleColor":"#111","tickSize":3,"tickColor":"#000","domain":true,"domainColor":"#000","grid":false,"labelPadding":2,"titlePadding":3}},
      "xOffset":{"field":"line","type":"nominal","scale":{"domain":["SUM44","LCCTam","MM134","MM134 LTED-D","MCF7","LCC9","MCF10A"],"paddingInner":0,"paddingOuter":0.25}},
      "y":{"field":"score","type":"quantitative","scale":{"domain":[-20,20],"nice":false},"axis":{"orient":"left","title":"Synergy Score","values":[-20,-10,0,10,20],"labelFontSize":6,"labelColor":"#333","titleFontSize":7,"titleFontWeight":"bold","titleColor":"#111","tickSize":3,"tickColor":"#000","domain":true,"domainColor":"#000","grid":false,"labelPadding":2,"titlePadding":3,"minExtent":0}},
      "color":{"field":"line","type":"nominal","scale":{"domain":["SUM44","LCCTam","MM134","MM134 LTED-D","MCF7","LCC9","MCF10A"],"range":["#000000","#e8357e","#2a8a7e","#2f8ef0","#3a1275","#c890f0","#8a8a8a"]},"legend":{"title":null,"orient":"right","labelFontSize":6.8,"labelColor":"#444","symbolType":"circle","symbolSize":22,"rowPadding":3.5,"offset":11,"symbolStrokeWidth":0,"labelOffset":5}},
      "shape":{"field":"method","type":"nominal","scale":{"domain":["Bliss","HSA","ZIP"],"range":["circle","square","triangle-up"]},"legend":null}}},
    {"data":{"name":"zones"},"mark":{"type":"text","align":"left","fontWeight":"bold","fontSize":6,"dx":-2,"color":"#222"},"encoding":{"text":{"field":"zone"},
      "x":{"datum":"Bliss","type":"nominal","axis":{"orient":"top","title":"RIL + 4HT","labels":false,"ticks":false,"domain":false,"grid":false,"titleFontSize":7.5,"titleFontWeight":"bold","titleColor":"#000","titlePadding":5,"minExtent":0,"maxExtent":0}},
      "xOffset":{"datum":"SUM44","type":"nominal"},
      "y":{"field":"yv","type":"quantitative","scale":{"domain":[-20,20],"nice":false},"axis":{"orient":"left","title":"C","titleAngle":0,"titleX":-21,"titleY":-5,"titleAlign":"left","titleBaseline":"alphabetic","titleFontSize":13,"titleFontWeight":"bold","titleColor":"#000","labels":false,"ticks":false,"domain":false,"grid":false,"minExtent":0,"maxExtent":0}}}}
   ]}
],"spacing":57,"resolve":{"scale":{"color":"independent"},"legend":{"color":"independent"}}}
]
}
